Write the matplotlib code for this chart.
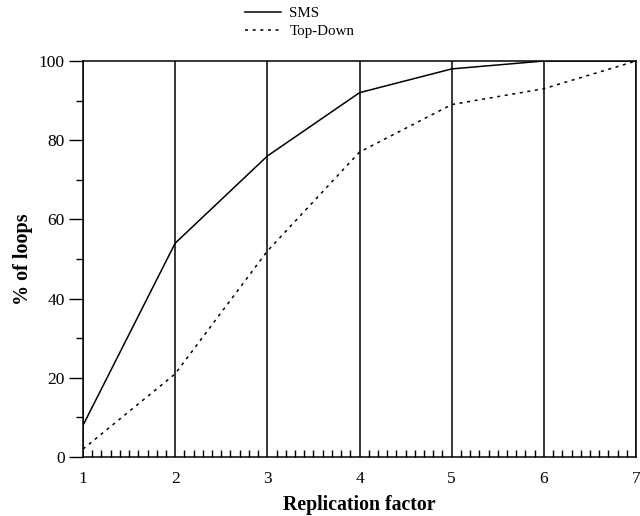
import matplotlib
matplotlib.use("Agg")
import matplotlib.pyplot as plt
from matplotlib.ticker import MultipleLocator

plt.rcParams['font.family'] = ['Liberation Serif', 'DejaVu Serif']

x = [1, 2, 3, 4, 5, 6, 7]
sms = [8, 54, 76, 92, 98, 100, 100]
topdown = [2, 21, 52, 77, 89, 93, 100]

fig = plt.figure(figsize=(6.4, 5.16), dpi=100)
ax = fig.add_axes([0.1297, 0.1143, 0.8641, 0.7675])

ax.plot(x, sms, color='black', lw=1.1, ls='-', label='SMS')
ax.plot(x, topdown, color='black', lw=1.1, ls=(0, (2, 3)), label='Top-Down')

ax.set_xlim(1, 7)
ax.set_ylim(0, 100)
ax.set_xticks(x)
ax.xaxis.set_minor_locator(MultipleLocator(0.1))
ax.yaxis.set_major_locator(MultipleLocator(20))
ax.yaxis.set_minor_locator(MultipleLocator(10))
ax.grid(axis='x', which='major', color='black', lw=1.1)
ax.tick_params(axis='x', which='major', length=0, pad=10, labelsize=12.5)
ax.tick_params(axis='x', which='minor', direction='in', length=5, width=1)
ax.tick_params(axis='y', which='major', direction='out', length=10, width=1, labelsize=12.5, pad=3)
ax.tick_params(axis='y', which='minor', direction='out', length=5, width=1)
for s in ax.spines.values():
    s.set_linewidth(1.1)

ax.set_xlabel('Replication factor', fontsize=14.3, fontweight='bold', labelpad=6)
ax.set_ylabel('% of loops', fontsize=14.5, fontweight='bold', labelpad=4)

fig.legend(loc='upper left', bbox_to_anchor=(0.362, 1.014), frameon=False,
           fontsize=10.8, handlelength=2.4, labelspacing=0.3, handletextpad=0.55)

fig.savefig('out.png', dpi=100)
